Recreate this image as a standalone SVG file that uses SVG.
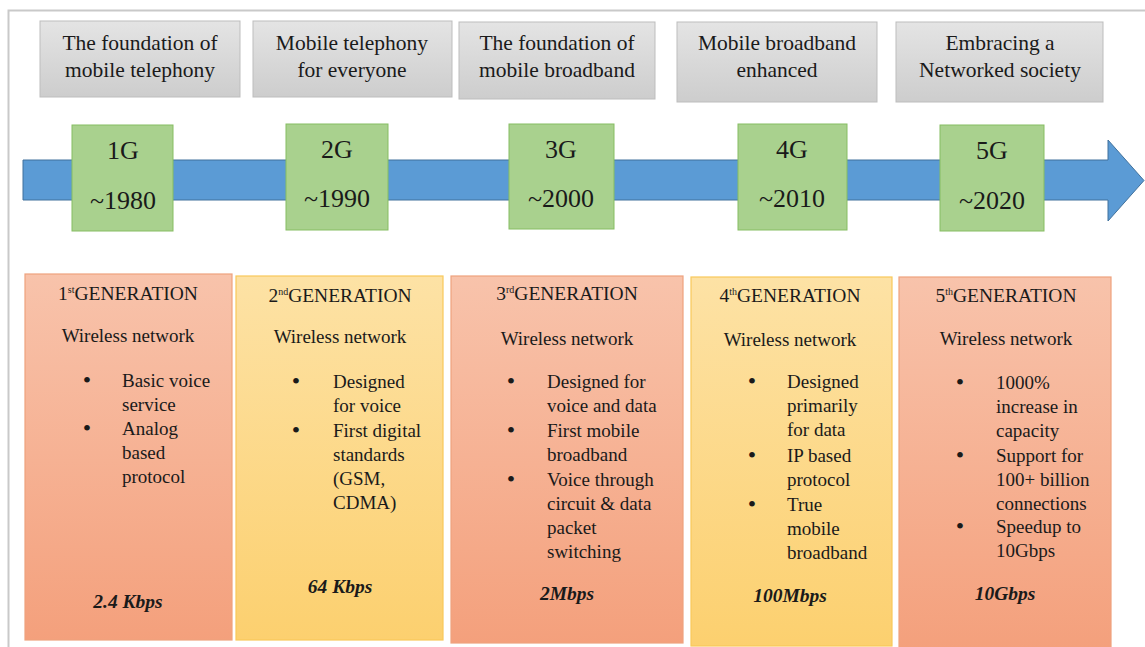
<svg xmlns="http://www.w3.org/2000/svg" width="1145" height="647" viewBox="0 0 1145 647">
<defs>
<linearGradient id="gGrey" x1="0" y1="0" x2="0" y2="1"><stop offset="0" stop-color="#e4e4e4"/><stop offset="1" stop-color="#cdcdcd"/></linearGradient>
<linearGradient id="gSalmon" x1="0" y1="0" x2="0" y2="1"><stop offset="0" stop-color="#f8c3ab"/><stop offset="1" stop-color="#f4a07c"/></linearGradient>
<linearGradient id="gYellow" x1="0" y1="0" x2="0" y2="1"><stop offset="0" stop-color="#fde2a5"/><stop offset="1" stop-color="#fcd06f"/></linearGradient>
</defs>
<rect width="1145" height="647" fill="#ffffff"/>
<g id="frame" fill="none" stroke="#c9c9c9" stroke-width="2">
<path d="M8.5 647 V10.5 H1145"/>
</g>

<g id="connectors">
<polygon id="timeline-arrow" points="23,160 1108,160 1108,140 1144,180.5 1108,221 1108,200 23,200" fill="#5b9bd5" stroke="#41719c" stroke-width="1"/>
</g>

<g id="headers" font-family="Liberation Serif" font-size="21.5" text-anchor="middle" fill="#1a1a1a">
<g id="header-1"><rect x="40" y="21" width="200" height="76" fill="url(#gGrey)" stroke="#bdbdbd"/><text x="140" y="50">The foundation of</text><text x="140" y="77">mobile telephony</text></g>
<g id="header-2"><rect x="253" y="21" width="199" height="76" fill="url(#gGrey)" stroke="#bdbdbd"/><text x="352" y="50">Mobile telephony</text><text x="352" y="77">for everyone</text></g>
<g id="header-3"><rect x="459" y="22" width="196" height="77" fill="url(#gGrey)" stroke="#bdbdbd"/><text x="557" y="50">The foundation of</text><text x="557" y="77">mobile broadband</text></g>
<g id="header-4"><rect x="677" y="22" width="200" height="80" fill="url(#gGrey)" stroke="#bdbdbd"/><text x="777" y="50">Mobile broadband</text><text x="777" y="77">enhanced</text></g>
<g id="header-5"><rect x="896" y="22" width="207" height="80" fill="url(#gGrey)" stroke="#bdbdbd"/><text x="1000" y="50">Embracing a</text><text x="1000" y="77">Networked society</text></g>
</g>

<g id="years" font-family="Liberation Serif" font-size="26" text-anchor="middle" fill="#1a1a1a">
<g id="year-1g"><rect x="72" y="125" width="101" height="106" fill="#a9d18e" stroke="#86bd62"/><text x="123" y="159">1G</text><text x="123" y="209">~1980</text></g>
<g id="year-2g"><rect x="286" y="124" width="102" height="106" fill="#a9d18e" stroke="#86bd62"/><text x="337" y="158">2G</text><text x="337" y="207">~1990</text></g>
<g id="year-3g"><rect x="509" y="124" width="105" height="105" fill="#a9d18e" stroke="#86bd62"/><text x="561" y="158">3G</text><text x="561" y="207">~2000</text></g>
<g id="year-4g"><rect x="738" y="124" width="109" height="106" fill="#a9d18e" stroke="#86bd62"/><text x="792" y="158">4G</text><text x="792" y="207">~2010</text></g>
<g id="year-5g"><rect x="940" y="125" width="104" height="106" fill="#a9d18e" stroke="#86bd62"/><text x="992" y="159">5G</text><text x="992" y="209">~2020</text></g>
</g>

<g id="generations" font-family="Liberation Serif" font-size="19" fill="#1a1a1a">
<g id="gen-1">
<rect x="25" y="274" width="207" height="366" fill="url(#gSalmon)" stroke="#eea27e" stroke-width="1.2"/>
<g text-anchor="middle">
<text x="128" y="300" font-size="19.5">1<tspan font-size="10" dy="-7">st</tspan><tspan dy="7">GENERATION</tspan></text>
<text x="128" y="342">Wireless network</text>
<text x="87" y="388" font-size="24">•</text><text x="87" y="436" font-size="24">•</text>
<text x="128" y="608" font-size="19.5" font-weight="bold" font-style="italic">2.4 Kbps</text>
</g>
<text x="122" y="387">Basic voice</text>
<text x="122" y="411">service</text>
<text x="122" y="435">Analog</text>
<text x="122" y="459">based</text>
<text x="122" y="483">protocol</text>
</g>

<g id="gen-2">
<rect x="236" y="276" width="207" height="364" fill="url(#gYellow)" stroke="#f8c95a" stroke-width="1.2"/>
<g text-anchor="middle">
<text x="340" y="302" font-size="19.5">2<tspan font-size="10" dy="-7">nd</tspan><tspan dy="7">GENERATION</tspan></text>
<text x="340" y="343">Wireless network</text>
<text x="296" y="389" font-size="24">•</text><text x="296" y="438" font-size="24">•</text>
<text x="340" y="593" font-size="19.5" font-weight="bold" font-style="italic">64 Kbps</text>
</g>
<text x="333" y="388">Designed</text>
<text x="333" y="412">for voice</text>
<text x="333" y="437">First digital</text>
<text x="333" y="461">standards</text>
<text x="333" y="485">(GSM,</text>
<text x="333" y="509">CDMA)</text>
</g>

<g id="gen-3">
<rect x="451" y="276" width="232" height="367" fill="url(#gSalmon)" stroke="#eea27e" stroke-width="1.2"/>
<g text-anchor="middle">
<text x="567" y="300" font-size="19.5">3<tspan font-size="10" dy="-7">rd</tspan><tspan dy="7">GENERATION</tspan></text>
<text x="567" y="345">Wireless network</text>
<text x="511" y="389" font-size="24">•</text><text x="511" y="438" font-size="24">•</text><text x="511" y="487" font-size="24">•</text>
<text x="567" y="600" font-size="19.5" font-weight="bold" font-style="italic">2Mbps</text>
</g>
<text x="547" y="388">Designed for</text>
<text x="547" y="412">voice and data</text>
<text x="547" y="437">First mobile</text>
<text x="547" y="461">broadband</text>
<text x="547" y="486">Voice through</text>
<text x="547" y="510">circuit &amp; data</text>
<text x="547" y="534">packet</text>
<text x="547" y="558">switching</text>
</g>

<g id="gen-4">
<rect x="691" y="277" width="201" height="369" fill="url(#gYellow)" stroke="#f8c95a" stroke-width="1.2"/>
<g text-anchor="middle">
<text x="790" y="302" font-size="19.5">4<tspan font-size="10" dy="-7">th</tspan><tspan dy="7">GENERATION</tspan></text>
<text x="790" y="346">Wireless network</text>
<text x="752" y="389" font-size="24">•</text><text x="752" y="463" font-size="24">•</text><text x="752" y="512" font-size="24">•</text>
<text x="790" y="602" font-size="19.5" font-weight="bold" font-style="italic">100Mbps</text>
</g>
<text x="787" y="388">Designed</text>
<text x="787" y="412">primarily</text>
<text x="787" y="436">for data</text>
<text x="787" y="462">IP based</text>
<text x="787" y="486">protocol</text>
<text x="787" y="511">True</text>
<text x="787" y="535">mobile</text>
<text x="787" y="559">broadband</text>
</g>

<g id="gen-5">
<rect x="899" y="277" width="212" height="372" fill="url(#gSalmon)" stroke="#eea27e" stroke-width="1.2"/>
<g text-anchor="middle">
<text x="1006" y="302" font-size="19.5">5<tspan font-size="10" dy="-7">th</tspan><tspan dy="7">GENERATION</tspan></text>
<text x="1006" y="345">Wireless network</text>
<text x="960" y="390" font-size="24">•</text><text x="960" y="463" font-size="24">•</text><text x="960" y="534" font-size="24">•</text>
<text x="1005" y="600" font-size="19.5" font-weight="bold" font-style="italic">10Gbps</text>
</g>
<text x="996" y="389">1000%</text>
<text x="996" y="413">increase in</text>
<text x="996" y="437">capacity</text>
<text x="996" y="462">Support for</text>
<text x="996" y="486">100+ billion</text>
<text x="996" y="510">connections</text>
<text x="996" y="533">Speedup to</text>
<text x="996" y="557">10Gbps</text>
</g>
</g>
</svg>
